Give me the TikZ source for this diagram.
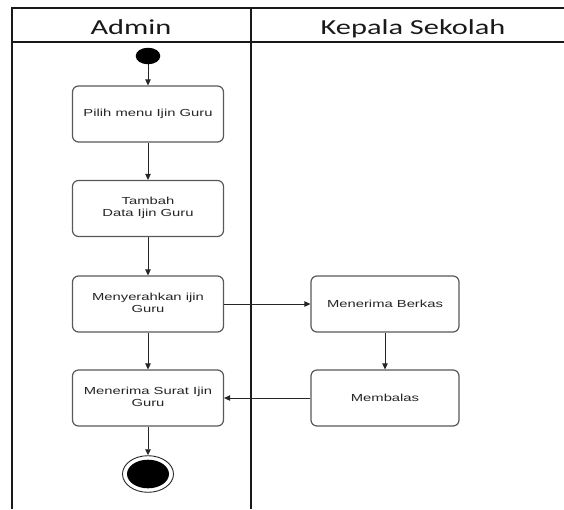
\documentclass[tikz,border=0pt]{standalone}
\usepackage{fontspec}
\usetikzlibrary{arrows.meta,shapes.geometric}
\newfontfamily\titlefont{Carlito}
\newfontfamily\boxfont{Liberation Sans}
\newcommand{\hstr}[1]{\scalebox{1.45}[1]{#1}}
\newcommand{\tstr}[1]{\scalebox{1.42}[1]{#1}}
\tikzset{
  lane/.style={line width=2pt, draw=black!90},
  actbox/.style={draw=black!65, line width=1.2pt, rounded corners=6pt, fill=white,
    minimum width=151pt, minimum height=56pt, inner sep=0pt, align=center,
    font=\boxfont\fontsize{10.2}{12}\selectfont, text=black!85},
  flow/.style={-{Triangle[length=6pt,width=5.5pt]}, line width=0.9pt, draw=black!85},
  lanetitle/.style={font=\titlefont\fontsize{21.4}{24}\selectfont, text=black!90, anchor=base, inner sep=0pt}
}
\begin{document}
\begin{tikzpicture}[x={(1pt,0)}, y={(0,-1pt)}]
\useasboundingbox (0,0) rectangle (564,509);
% swimlane frame
\coordinate (tl) at (12,8);
\draw[lane] (12,509) -- (12,8) -- (564,8);
\draw[lane] (12,41.5) -- (564,41.5);
\draw[lane] (251,8) -- (251,509);
\node[lanetitle] (tadmin) at (131,34.6) {\tstr{Admin}};
\node[lanetitle] (tkepala) at (413,34.6) {\tstr{Kepala Sekolah}};
% nodes
\node[ellipse, fill=black, minimum width=24.6pt, minimum height=16.5pt, inner sep=0pt] (start) at (148,56) {};
\node[actbox] (b1) at (148,114) {\hstr{Pilih menu Ijin Guru}};
\node[actbox] (b2) at (148,208.5) {\hstr{\begin{tabular}{@{}c@{}}Tambah\\Data Ijin Guru\end{tabular}}};
\node[actbox] (b3) at (148,304) {\hstr{\begin{tabular}{@{}c@{}}Menyerahkan ijin\\Guru\end{tabular}}};
\node[actbox] (b4) at (148,398) {\hstr{\begin{tabular}{@{}c@{}}Menerima Surat Ijin\\Guru\end{tabular}}};
\node[actbox, minimum width=148pt] (r1) at (385,304) {\hstr{Menerima Berkas}};
\node[actbox, minimum width=148pt] (r2) at (385,398) {\hstr{Membalas}};
\node[ellipse, draw=black!85, line width=0.9pt, minimum width=51pt, minimum height=36.6pt, inner sep=0pt] (end) at (148,474) {};
\node[ellipse, fill=black, minimum width=42pt, minimum height=28.6pt, inner sep=0pt] (endin) at (end.center) {};
% connectors
\draw[flow] (start) -- (b1);
\draw[flow] (b1) -- (b2);
\draw[flow] (b2) -- (b3);
\draw[flow] (b3) -- (b4);
\draw[flow] (b4) -- (end);
\draw[flow] (b3) -- (r1);
\draw[flow] (r1) -- (r2);
\draw[flow] (r2) -- (b4);
\end{tikzpicture}
\end{document}
